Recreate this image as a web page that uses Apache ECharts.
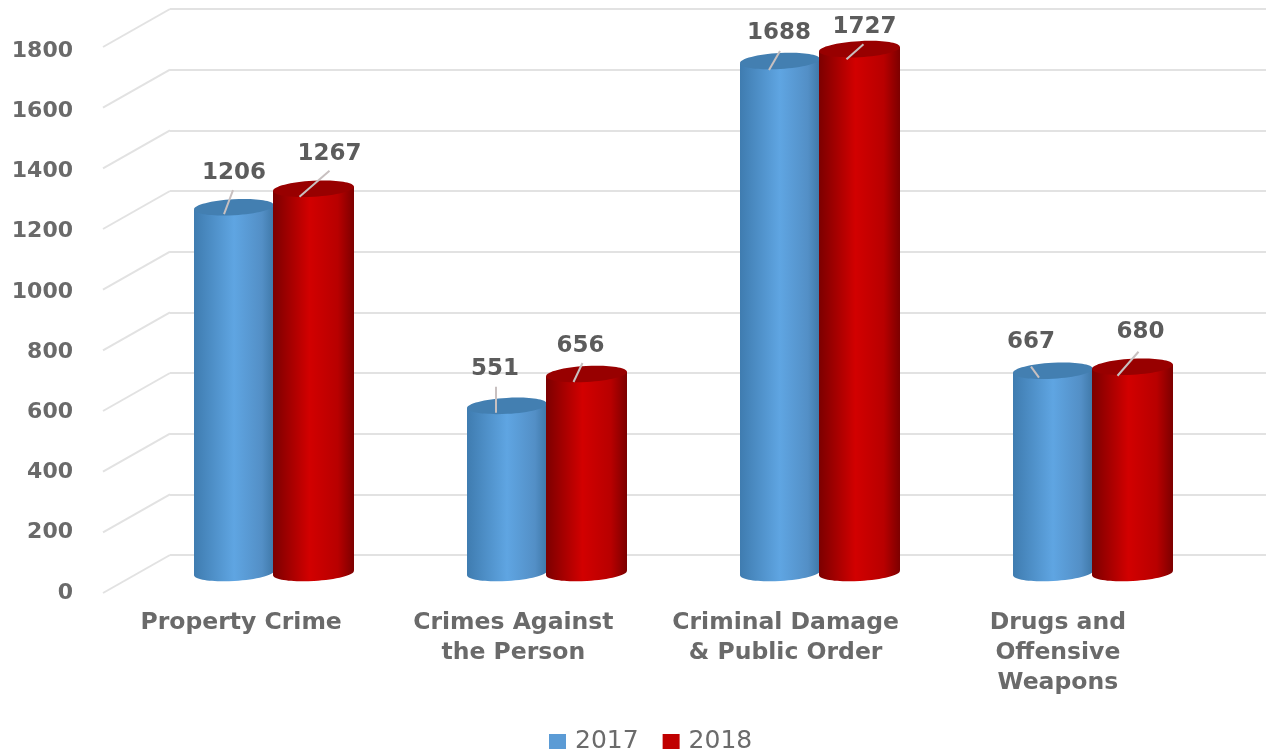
<!DOCTYPE html>
<html>
<head>
<meta charset="utf-8">
<title>Crime by category 2017 and 2018</title>
<script src="https://cdn.jsdelivr.net/npm/echarts@6/dist/echarts.min.js"></script>
<style>
  html, body { margin: 0; padding: 0; background: #fff; }
  /* the reference is a soft, upscaled image */
  #chart { width: 1266px; height: 754px; filter: blur(0.5px); }
</style>
</head>
<body>
<div id="chart"></div>
<script>
var categories = ["Property Crime", "Crimes Against\nthe Person", "Criminal Damage\n& Public Order", "Drugs and\nOffensive\nWeapons"];
var values2017 = [1206, 551, 1688, 667];
var values2018 = [1267, 656, 1727, 680];
var yTicks = [0, 200, 400, 600, 800, 1000, 1200, 1400, 1600, 1800];

// label and leader line placement relative to the top of each cylinder: [labelDx, labelDy, fromDx, fromDy, toDx, toDy]
var leaders2017 = [
  [0, -34, -1, -17, -10, 7],
  [-12, -37, -11, -19, -11, 7],
  [-1, -28, 0, -10, -11, 9],
  [-22, -29, -22, -4, -14, 7]
];
var leaders2018 = [
  [16, -35, 16, -18, -14, 8],
  [-6, -28, -4, -11, -13, 8],
  [5, -22, 4, -5, -13, 10],
  [8, -35, 6, -15, -15, 9]
];

var font = "'DejaVu Sans', sans-serif";
var depthX = 67;
var depthY = 38;
var capHeight = 8;
var capTilt = 0.055;

function cylinder(leaders, offset, halfWidth, stops, capColor) {
  return function (params, api) {
    var i = api.value(0);
    var top = api.coord([i, api.value(1)]);
    var base = api.coord([i, 0]);
    var cx = top[0] + offset;
    var lead = leaders[i];
    var rise = halfWidth * Math.sin(capTilt);
    var fill = new echarts.graphic.LinearGradient(0, 0, 1, 0, stops);
    return {
      type: "group",
      children: [
        {
          type: "ellipse",
          shape: { cx: cx, cy: base[1], rx: halfWidth, ry: capHeight },
          rotation: capTilt,
          originX: cx,
          originY: base[1],
          style: { fill: fill }
        },
        {
          type: "polygon",
          shape: {
            points: [
              [cx - halfWidth, top[1] + rise],
              [cx + halfWidth, top[1] - rise],
              [cx + halfWidth, base[1] - rise],
              [cx - halfWidth, base[1] + rise]
            ]
          },
          style: { fill: fill }
        },
        {
          type: "ellipse",
          shape: { cx: cx, cy: top[1], rx: halfWidth, ry: capHeight },
          rotation: capTilt,
          originX: cx,
          originY: top[1],
          style: { fill: capColor }
        },
        {
          type: "line",
          shape: { x1: cx + lead[2], y1: top[1] + lead[3], x2: cx + lead[4], y2: top[1] + lead[5] },
          style: { stroke: "#c8c0c0", lineWidth: 2 }
        },
        {
          type: "text",
          x: cx + lead[0],
          y: top[1] + lead[1],
          style: {
            text: String(api.value(1)),
            fill: "#5c5c5c",
            fontFamily: font,
            fontSize: 23,
            fontWeight: "bold",
            align: "center",
            verticalAlign: "middle"
          }
        }
      ]
    };
  };
}

var blueStops = [
  { offset: 0, color: "#3f7cb0" },
  { offset: 0.5, color: "#5fa5e2" },
  { offset: 0.85, color: "#538fc6" },
  { offset: 1, color: "#3f78a8" }
];
var redStops = [
  { offset: 0, color: "#7c0000" },
  { offset: 0.45, color: "#d20000" },
  { offset: 0.8, color: "#b80000" },
  { offset: 1, color: "#7c0000" }
];

var option = {
  animation: false,
  backgroundColor: "#fff",
  legend: {
    data: ["2017", "2018"],
    left: 549,
    top: 729,
    padding: 0,
    icon: "rect",
    itemWidth: 17,
    itemHeight: 15,
    itemGap: 24,
    textStyle: { color: "#6b6b6b", fontFamily: font, fontSize: 25, padding: [0, 0, 0, 4] }
  },
  grid: [
    // front edge of the floor: axis labels
    { left: 105, top: 51, width: 1089, height: 542 },
    // back wall: gridlines
    { left: 170, top: 9, right: 0, height: 546 },
    // plane the cylinders stand on
    { left: 137, top: 27, width: 1092, height: 546 }
  ],
  xAxis: [
    {
      gridIndex: 0,
      type: "category",
      data: categories,
      axisLine: { show: false },
      axisTick: { show: false },
      axisLabel: {
        margin: 15,
        color: "#6a6a6a",
        fontFamily: font,
        fontSize: 23.5,
        fontWeight: "bold",
        lineHeight: 30,
        interval: 0
      }
    },
    { gridIndex: 1, type: "value", min: 0, max: 1, show: false },
    { gridIndex: 2, type: "category", data: categories, show: false }
  ],
  yAxis: [
    {
      gridIndex: 0,
      type: "value",
      min: 0,
      max: 1800,
      interval: 200,
      axisLine: { show: false },
      axisTick: { show: false },
      splitLine: { show: false },
      axisLabel: {
        margin: 32,
        color: "#6a6a6a",
        fontFamily: font,
        fontSize: 22,
        fontWeight: "bold",
        formatter: function (v) { return String(v); }
      }
    },
    {
      gridIndex: 1,
      type: "value",
      min: 0,
      max: 1800,
      interval: 200,
      axisLine: { show: false },
      axisTick: { show: false },
      axisLabel: { show: false },
      splitLine: { lineStyle: { color: "#e2e2e2", width: 2 } }
    },
    { gridIndex: 2, type: "value", min: 0, max: 1800, show: false }
  ],
  series: [
    {
      // side wall gridlines, going from the back wall to the front edge
      type: "custom",
      xAxisIndex: 1,
      yAxisIndex: 1,
      silent: true,
      data: yTicks.map(function (t) { return [0, t]; }),
      renderItem: function (params, api) {
        var p = api.coord([api.value(0), api.value(1)]);
        return {
          type: "line",
          shape: { x1: p[0], y1: p[1], x2: p[0] - depthX, y2: p[1] + depthY },
          style: { stroke: "#e2e2e2", lineWidth: 2 }
        };
      }
    },
    {
      name: "2017",
      type: "custom",
      xAxisIndex: 2,
      yAxisIndex: 2,
      itemStyle: { color: "#5b9bd5" },
      data: values2017.map(function (v, i) { return [i, v]; }),
      encode: { x: 0, y: 1 },
      renderItem: cylinder(leaders2017, -39.5, 40, blueStops, "#437fb1")
    },
    {
      name: "2018",
      type: "custom",
      xAxisIndex: 2,
      yAxisIndex: 2,
      itemStyle: { color: "#c00000" },
      data: values2018.map(function (v, i) { return [i, v]; }),
      encode: { x: 0, y: 1 },
      renderItem: cylinder(leaders2018, 40, 40.5, redStops, "#980000")
    }
  ]
};

var myChart = echarts.init(document.getElementById("chart"));
myChart.setOption(option);
</script>
</body>
</html>
